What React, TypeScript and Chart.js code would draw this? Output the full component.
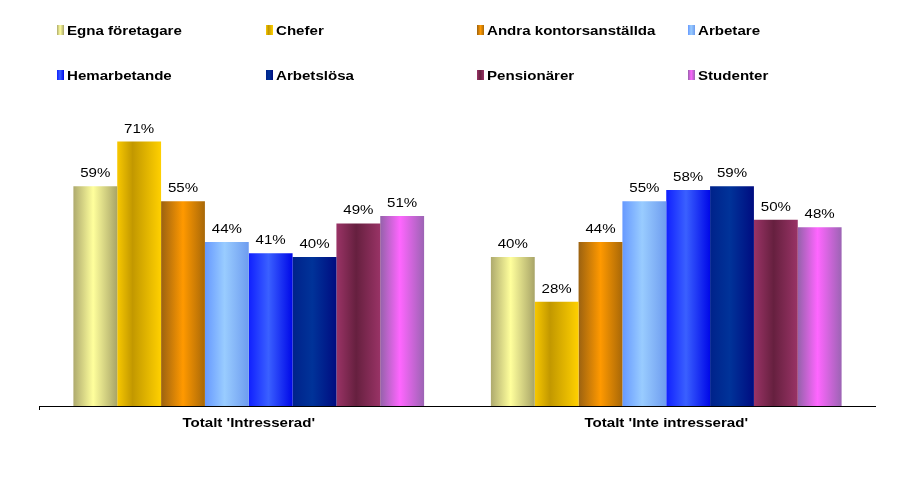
import React, { useEffect, useRef } from 'react';
import { Chart, registerables } from 'chart.js';

Chart.register(...registerables);

const categories = ["Totalt 'Intresserad'", "Totalt 'Inte intresserad'"];
const seriesNames = [
  'Egna företagare',
  'Chefer',
  'Andra kontorsanställda',
  'Arbetare',
  'Hemarbetande',
  'Arbetslösa',
  'Pensionärer',
  'Studenter',
];
const egnaForetagare = [59, 40];
const chefer = [71, 28];
const andraKontorsanstallda = [55, 44];
const arbetare = [44, 55];
const hemarbetande = [41, 58];
const arbetslosa = [40, 59];
const pensionarer = [49, 50];
const studenter = [51, 48];

const seriesValues = [
  egnaForetagare,
  chefer,
  andraKontorsanstallda,
  arbetare,
  hemarbetande,
  arbetslosa,
  pensionarer,
  studenter,
];

// gradient stops: [left, middle, right, middlePosition]
const seriesGradients: [string, string, string, number][] = [
  ['#aeaa6e', '#ffff9c', '#a8a468', 0.45],
  ['#f8c800', '#c29800', '#ffd000', 0.35],
  ['#9c6210', '#ff9900', '#a86808', 0.5],
  ['#6699ff', '#99ccff', '#6e9cef', 0.45],
  ['#1020ff', '#3a60ff', '#0008e8', 0.45],
  ['#00228a', '#003399', '#000c80', 0.45],
  ['#9a3366', '#66203f', '#993366', 0.45],
  ['#9462aa', '#ff66ff', '#9c64b4', 0.45],
];
const seriesSolid = ['#f0ee90', '#e8b800', '#ff9900', '#99ccff', '#3366ff', '#003399', '#7a2a50', '#ff66ff'];

const legendCols = [57, 266, 477, 688];
const legendRows = [30, 75];
const TEXT_STRETCH = 1.16;
const FONT_FAMILY = 'Arial, "Liberation Sans", sans-serif';

function makeGradient(ctx: CanvasRenderingContext2D, x0: number, x1: number, idx: number) {
  const [l, m, r, p] = seriesGradients[idx];
  const g = ctx.createLinearGradient(x0, 0, x1, 0);
  g.addColorStop(0, l);
  g.addColorStop(p, m);
  g.addColorStop(1, r);
  return g;
}

function stretchedText(
  ctx: CanvasRenderingContext2D,
  text: string,
  x: number,
  y: number,
  align: CanvasTextAlign,
  baseline: CanvasTextBaseline,
  font: string
) {
  ctx.save();
  ctx.translate(x, y);
  ctx.scale(TEXT_STRETCH, 1);
  ctx.font = font;
  ctx.fillStyle = '#000';
  ctx.textAlign = align;
  ctx.textBaseline = baseline;
  ctx.fillText(text, 0, 0);
  ctx.restore();
}

const gradientPlugin = {
  id: 'barGradient',
  beforeDatasetsDraw(chart: any) {
    const ctx = chart.ctx;
    chart.data.datasets.forEach((_: any, di: number) => {
      const meta = chart.getDatasetMeta(di);
      meta.data.forEach((el: any) => {
        const x0 = el.x - el.width / 2;
        const x1 = el.x + el.width / 2;
        el.options = { ...el.options, backgroundColor: makeGradient(ctx, x0, x1, di) };
      });
    });
  },
};

const labelPlugin = {
  id: 'valueLabels',
  afterDatasetsDraw(chart: any) {
    const ctx = chart.ctx;
    chart.data.datasets.forEach((ds: any, di: number) => {
      const meta = chart.getDatasetMeta(di);
      meta.data.forEach((el: any, i: number) => {
        stretchedText(ctx, ds.data[i] + '%', el.x, el.y - 9, 'center', 'alphabetic', `13px ${FONT_FAMILY}`);
      });
    });
  },
};

const legendPlugin = {
  id: 'gridLegend',
  afterDraw(chart: any) {
    const ctx = chart.ctx;
    ctx.save();
    chart.data.datasets.forEach((ds: any, di: number) => {
      const cx = legendCols[di % 4];
      const cy = legendRows[Math.floor(di / 4)];
      ctx.fillStyle = makeGradient(ctx, cx, cx + 7, di);
      ctx.fillRect(cx, cy - 5, 7, 10);
      stretchedText(ctx, ds.label, cx + 10, cy + 1, 'left', 'middle', `bold 13px ${FONT_FAMILY}`);
    });
    // category labels under the axis
    const xs = chart.scales.x;
    chart.data.labels.forEach((lab: string, i: number) => {
      stretchedText(ctx, lab, xs.getPixelForValue(i), chart.chartArea.bottom + 17, 'center', 'middle', `bold 13px ${FONT_FAMILY}`);
    });
    // small tick at left end of axis
    const a = chart.chartArea;
    ctx.strokeStyle = '#000';
    ctx.lineWidth = 1;
    ctx.beginPath();
    ctx.moveTo(Math.round(a.left) - 0.5, a.bottom);
    ctx.lineTo(Math.round(a.left) - 0.5, a.bottom + 4);
    ctx.stroke();
    ctx.restore();
  },
};

export default function App() {
  const ref = useRef<HTMLCanvasElement | null>(null);
  useEffect(() => {
    if (!ref.current) return;
    const chart = new Chart(ref.current, {
      type: 'bar',
      data: {
        labels: categories,
        datasets: seriesNames.map((name, i) => ({
          label: name,
          data: seriesValues[i],
          backgroundColor: seriesSolid[i],
          borderWidth: 0,
          categoryPercentage: 0.84,
          barPercentage: 1,
        })),
      },
      options: {
        responsive: false,
        animation: false,
        devicePixelRatio: 1,
        layout: { padding: { top: 108, left: 40, right: 33, bottom: 0 } },
        plugins: {
          legend: { display: false },
          tooltip: { enabled: false },
          title: { display: false },
        },
        scales: {
          x: {
            grid: { display: false, drawTicks: false },
            border: { display: true, color: '#000', width: 1 },
            ticks: { display: false },
            afterFit: (scale: any) => {
              scale.height = 87;
            },
          },
          y: {
            display: false,
            min: 0,
            max: 80,
          },
        },
      },
      plugins: [gradientPlugin, labelPlugin, legendPlugin],
    } as any);
    return () => chart.destroy();
  }, []);
  return (
    <div style={{ position: 'absolute', left: 0, top: 0, width: 908, height: 493, background: '#fff' }}>
      <canvas ref={ref} width={908} height={493} style={{ width: 908, height: 493, display: 'block' }} />
    </div>
  );
}
